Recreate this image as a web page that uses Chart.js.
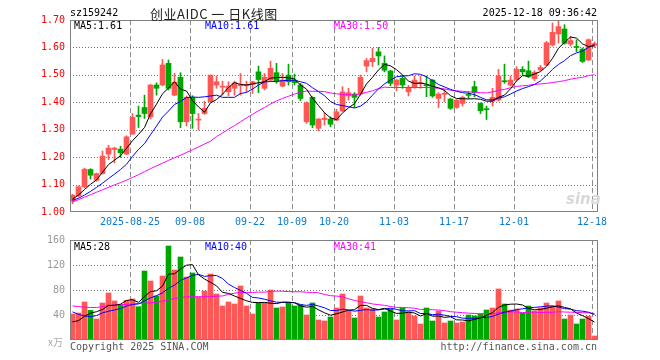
<!DOCTYPE html>
<html>
<head>
<meta charset="utf-8">
<script src="https://cdn.jsdelivr.net/npm/chart.js@4.4.0/dist/chart.umd.min.js"></script>
<style>
  body { margin: 0; width: 660px; height: 360px; background: #fff; position: relative; overflow: hidden;
         font-family: 'DejaVu Sans Mono', monospace; font-size: 10px; }
  .t { position: absolute; z-index: 2; white-space: nowrap; line-height: 1; }
  canvas { position: absolute; left: 0; z-index: 1; }
  #pc { top: 0; }
  #vc { top: 220px; }
</style>
</head>
<body>
<canvas id="pc" width="660" height="235"></canvas>
<canvas id="vc" width="660" height="140"></canvas>

<div class="t" style="left:70px;top:8px;color:#000">sz159242</div>
<div class="t" style="left:150px;top:4px;font:13px 'Noto Sans CJK SC';letter-spacing:0.5px;color:#222">创业AIDC 一 日K线图</div>
<div class="t" style="right:63px;top:8px;color:#000">2025-12-18 09:36:42</div>

<div class="t" style="left:74px;top:21px;color:#000">MA5:1.61</div>
<div class="t" style="left:205px;top:21px;color:#0000ff">MA10:1.61</div>
<div class="t" style="left:334px;top:21px;color:#ff00ff">MA30:1.50</div>

<div class="t" style="left:74px;top:242px;color:#000">MA5:28</div>
<div class="t" style="left:205px;top:242px;color:#0000ff">MA10:40</div>
<div class="t" style="left:334px;top:242px;color:#ff00ff">MA30:41</div>

<div class="t" style="left:566px;top:190px;font:bold italic 15px 'DejaVu Sans';color:#d8d8d8">sina</div>
<div class="t" style="right:597px;top:334px;font:10px 'Noto Sans CJK SC';color:#aaa">x万</div>
<div class="t" style="left:70px;top:342px;color:#555">Copyright 2025 SINA.COM</div>
<div class="t" style="right:63px;top:342px;color:#555">http://finance.sina.com.cn</div>

<script>
// trading days shown on the chart
const days = [
  '2025-08-11','2025-08-12','2025-08-13','2025-08-14','2025-08-15','2025-08-18','2025-08-19','2025-08-20','2025-08-21','2025-08-22',
  '2025-08-25','2025-08-26','2025-08-27','2025-08-28','2025-08-29','2025-09-01','2025-09-02','2025-09-03','2025-09-04','2025-09-05',
  '2025-09-08','2025-09-09','2025-09-10','2025-09-11','2025-09-12','2025-09-15','2025-09-16','2025-09-17','2025-09-18','2025-09-19',
  '2025-09-22','2025-09-23','2025-09-24','2025-09-25','2025-09-26','2025-09-29','2025-09-30','2025-10-09','2025-10-10','2025-10-13',
  '2025-10-14','2025-10-15','2025-10-16','2025-10-17','2025-10-20','2025-10-21','2025-10-22','2025-10-23','2025-10-24','2025-10-27',
  '2025-10-28','2025-10-29','2025-10-30','2025-10-31','2025-11-03','2025-11-04','2025-11-05','2025-11-06','2025-11-07','2025-11-10',
  '2025-11-11','2025-11-12','2025-11-13','2025-11-14','2025-11-17','2025-11-18','2025-11-19','2025-11-20','2025-11-21','2025-11-24',
  '2025-11-25','2025-11-26','2025-11-27','2025-11-28','2025-12-01','2025-12-02','2025-12-03','2025-12-04','2025-12-05','2025-12-08',
  '2025-12-09','2025-12-10','2025-12-11','2025-12-12','2025-12-15','2025-12-16','2025-12-17','2025-12-18'
];
const tickDays = ['2025-08-25','2025-09-08','2025-09-22','2025-10-09','2025-10-20','2025-11-03','2025-11-17','2025-12-01','2025-12-18'];
const tickLabels = ['2025-08-25','09-08','09-22','10-09','10-20','11-03','11-17','12-01','12-18'];
const priceTicks = [1.0, 1.1, 1.2, 1.3, 1.4, 1.5, 1.6, 1.7];
const volumeTicks = [0, 40, 80, 120, 160];

const openPx = [
  1.040,1.059,1.092,1.155,1.116,1.140,1.211,1.228,1.229,1.211,
  1.284,1.353,1.381,1.347,1.463,1.463,1.542,1.426,1.491,1.329,
  1.418,1.335,1.359,1.402,1.463,1.455,1.438,1.451,1.460,1.460,
  1.465,1.511,1.451,1.481,1.508,1.459,1.499,1.481,1.463,1.329,
  1.418,1.305,1.337,1.339,1.335,1.369,1.423,1.430,1.430,1.532,
  1.548,1.584,1.542,1.514,1.463,1.487,1.438,1.454,1.468,1.462,
  1.481,1.414,1.429,1.412,1.381,1.396,1.427,1.457,1.396,1.375,
  1.404,1.408,1.477,1.463,1.483,1.520,1.515,1.486,1.518,1.536,
  1.609,1.649,1.667,1.612,1.603,1.594,1.554,1.608
];
const highPx = [
  1.065,1.095,1.160,1.158,1.142,1.222,1.243,1.236,1.240,1.278,
  1.359,1.386,1.426,1.465,1.471,1.556,1.554,1.505,1.508,1.423,
  1.424,1.359,1.404,1.500,1.496,1.477,1.475,1.477,1.505,1.477,
  1.477,1.532,1.505,1.550,1.542,1.505,1.539,1.503,1.469,1.402,
  1.420,1.341,1.362,1.347,1.374,1.457,1.451,1.435,1.499,1.560,
  1.597,1.600,1.569,1.517,1.483,1.499,1.462,1.496,1.496,1.496,
  1.483,1.435,1.447,1.414,1.410,1.423,1.438,1.477,1.398,1.386,
  1.451,1.520,1.539,1.496,1.530,1.530,1.550,1.515,1.535,1.622,
  1.689,1.698,1.683,1.640,1.628,1.598,1.631,1.620
];
const lowPx = [
  1.030,1.055,1.088,1.120,1.112,1.138,1.191,1.179,1.199,1.209,
  1.283,1.308,1.341,1.339,1.426,1.460,1.445,1.424,1.307,1.314,
  1.305,1.299,1.356,1.400,1.451,1.426,1.423,1.426,1.426,1.438,
  1.432,1.435,1.445,1.478,1.469,1.457,1.463,1.463,1.406,1.323,
  1.307,1.296,1.317,1.311,1.333,1.365,1.408,1.381,1.426,1.511,
  1.530,1.536,1.511,1.460,1.442,1.451,1.423,1.451,1.451,1.420,
  1.418,1.381,1.402,1.374,1.378,1.386,1.414,1.420,1.359,1.337,
  1.386,1.404,1.469,1.459,1.478,1.499,1.490,1.479,1.515,1.533,
  1.605,1.616,1.612,1.605,1.584,1.545,1.553,1.600
];
const closePx = [
  1.061,1.092,1.156,1.134,1.140,1.204,1.233,1.233,1.216,1.274,
  1.345,1.348,1.359,1.463,1.451,1.536,1.451,1.473,1.329,1.418,
  1.359,1.337,1.378,1.499,1.475,1.457,1.459,1.471,1.463,1.465,
  1.475,1.483,1.491,1.524,1.475,1.481,1.475,1.471,1.414,1.398,
  1.317,1.339,1.342,1.320,1.365,1.438,1.435,1.418,1.491,1.552,
  1.560,1.569,1.517,1.469,1.481,1.463,1.453,1.481,1.472,1.460,
  1.423,1.430,1.431,1.378,1.408,1.418,1.425,1.435,1.369,1.373,
  1.418,1.496,1.475,1.481,1.520,1.511,1.493,1.509,1.527,1.617,
  1.655,1.676,1.615,1.625,1.600,1.549,1.628,1.614
];
const ma5 = [
  1.047,1.062,1.082,1.101,1.117,1.145,1.173,1.189,1.205,1.232,
  1.260,1.283,1.308,1.358,1.393,1.431,1.452,1.475,1.448,1.441,
  1.406,1.383,1.364,1.398,1.410,1.429,1.454,1.472,1.465,1.463,
  1.467,1.471,1.475,1.488,1.490,1.491,1.489,1.485,1.463,1.448,
  1.415,1.388,1.362,1.343,1.337,1.361,1.380,1.395,1.429,1.467,
  1.491,1.518,1.538,1.533,1.519,1.500,1.477,1.469,1.470,1.466,
  1.458,1.453,1.443,1.424,1.414,1.413,1.412,1.413,1.411,1.404,
  1.404,1.418,1.426,1.449,1.478,1.497,1.496,1.503,1.512,1.531,
  1.560,1.597,1.618,1.638,1.634,1.613,1.603,1.606
];
const ma10 = [
  1.043,1.050,1.062,1.075,1.090,1.105,1.122,1.138,1.155,1.174,
  1.203,1.228,1.249,1.282,1.313,1.346,1.368,1.392,1.403,1.417,
  1.419,1.418,1.420,1.423,1.426,1.418,1.418,1.418,1.432,1.436,
  1.448,1.463,1.474,1.476,1.476,1.479,1.480,1.480,1.475,1.469,
  1.453,1.439,1.424,1.403,1.392,1.388,1.384,1.379,1.386,1.402,
  1.426,1.449,1.467,1.481,1.493,1.496,1.497,1.504,1.502,1.493,
  1.479,1.465,1.456,1.447,1.440,1.435,1.433,1.428,1.418,1.409,
  1.409,1.415,1.420,1.430,1.441,1.450,1.457,1.465,1.478,1.498,
  1.520,1.538,1.552,1.570,1.580,1.587,1.600,1.611
];
const ma30 = [
  1.037,1.045,1.054,1.063,1.072,1.081,1.090,1.099,1.107,1.116,
  1.126,1.136,1.147,1.158,1.168,1.178,1.188,1.198,1.207,1.217,
  1.227,1.237,1.248,1.258,1.275,1.288,1.302,1.315,1.329,1.343,
  1.356,1.369,1.381,1.394,1.405,1.414,1.422,1.430,1.437,1.441,
  1.440,1.440,1.439,1.434,1.431,1.428,1.428,1.426,1.431,1.436,
  1.442,1.450,1.455,1.454,1.454,1.454,1.454,1.454,1.454,1.454,
  1.453,1.451,1.449,1.444,1.442,1.440,1.438,1.437,1.435,1.434,
  1.438,1.443,1.447,1.453,1.458,1.460,1.462,1.465,1.467,1.469,
  1.472,1.475,1.479,1.484,1.488,1.491,1.497,1.501
];

// volume, 万手
const volume = [
  41.6,43.2,60.8,47.5,33.6,59.2,75.2,62.4,56,63.5,
  65.6,53.3,110.4,94.4,70.4,102.4,150.4,112,132.8,100.8,
  107.2,68.8,78.4,105.6,73.6,54.4,60.8,57.6,86.4,54.4,
  41.6,59.2,59.2,80,51.2,52.8,59.2,54.4,56,40,
  59.2,32,30.4,36.8,51.2,73.6,46.4,35.2,70.4,51.2,
  49.6,36.8,44.8,49.6,32,51.2,44.8,38.4,25.6,51.2,
  30.4,46.4,27.2,30.4,27.2,28.8,40,38.4,41.6,48,
  51.2,81.6,57.6,48,49.6,43.2,54.4,46.4,51.2,59.2,
  54.4,62.4,33.6,40,25.6,33.6,38.4,6.4
];
const volMa5 = [
  29,31,38,43,45.3,48.9,55.3,55.6,57.3,63.3,
  64.5,60.2,69.8,77.4,78.8,86.2,105.6,105.9,113.6,119.7,
  120.6,104.3,97.6,92.2,86.7,76.2,74.6,70.4,66.6,62.7,
  60.2,59.8,60.2,58.9,58.2,60.5,60.5,59.5,54.7,52.5,
  53.8,48.3,43.5,39.7,41.9,44.8,47.7,48.6,55.4,55.4,
  50.6,48.6,50.6,46.4,42.6,42.9,44.5,43.2,38.4,42.2,
  38.1,38.4,36.2,37.1,32.3,32.0,30.7,33.0,35.2,39.4,
  43.8,52.2,56.0,57.3,57.6,56.0,50.6,48.3,49.0,50.9,
  53.1,54.7,52.2,49.9,43.2,39.0,34.2,28.8
];
const volMa10 = [
  45,41,38.5,37.5,39,43.5,46,48,50.5,54.3,
  56.7,57.7,62.7,67.4,71.0,75.4,82.9,87.8,95.5,99.3,
  103.4,105.0,101.8,102.9,103.2,98.4,89.4,84.0,79.4,74.7,
  68.2,67.2,65.3,62.7,60.5,60.3,60.2,59.8,56.8,55.4,
  57.1,54.4,51.5,47.2,47.2,49.3,48.0,46.1,47.5,48.6,
  47.7,48.2,49.6,50.9,49.0,46.7,46.6,46.9,42.4,42.4,
  40.5,41.4,39.7,37.8,37.3,35.0,34.6,34.6,36.2,35.8,
  37.9,41.4,44.5,46.2,48.5,49.9,51.4,52.2,53.1,54.2,
  54.6,52.6,50.2,49.4,47.0,46.1,44.5,40.5
];
const volMa30 = [
  54.5,53.5,52.5,52,52,53.5,55,56,56.5,57,
  57.5,58.5,59,59.5,60.5,62,64,66.5,68,69,
  69.3,69.3,69.3,69.5,70,70.5,73,75,76,76.1,
  76.1,76.6,76.6,77.7,78.2,78.0,77.5,77.2,77.2,76.4,
  76.2,75.5,72.9,70.9,70.3,69.3,65.9,63.3,61.2,59.6,
  57.7,56.6,55.5,53.6,52.2,52.1,51.6,50.9,48.9,48.8,
  48.4,48.0,46.9,45.3,44.5,43.7,43.0,42.5,42.0,42.3,
  42.0,43.7,44.6,45.0,44.9,43.9,44.2,44.5,43.9,44.2,
  44.3,45.2,44.8,44.5,44.3,43.7,43.5,42.4
];

const RED = '#ff5656', GREEN = '#00a600';
const MONO = "'DejaVu Sans Mono', monospace";
const tickIdx = tickDays.map(d => days.indexOf(d));
const colors = closePx.map((c, i) => c >= openPx[i] ? RED : GREEN);
const pos = i => i + 2.5 / 6; // centre of the candle inside its day slot

// dashed day lines + dotted value lines under the marks, grey box on top
const guides = {
  id: 'guides',
  beforeDatasetsDraw(chart) {
    const ctx = chart.ctx, a = chart.chartArea, x = chart.scales.x, y = chart.scales.y;
    ctx.save();
    ctx.lineWidth = 1;
    ctx.strokeStyle = '#8c8c8c';
    ctx.setLineDash([5, 3]);
    x.ticks.forEach(t => {
      const px = Math.round(x.getPixelForValue(t.value)) + 0.5;
      ctx.beginPath(); ctx.moveTo(px, a.top); ctx.lineTo(px, a.bottom); ctx.stroke();
    });
    ctx.strokeStyle = '#777';
    ctx.setLineDash([1, 2]);
    y.ticks.filter(t => t.value > y.min && t.value < y.max).forEach(t => {
      const py = Math.round(y.getPixelForValue(t.value)) + 0.5;
      ctx.beginPath(); ctx.moveTo(a.left, py); ctx.lineTo(a.right, py); ctx.stroke();
    });
    ctx.restore();
  },
  afterDraw(chart) {
    const ctx = chart.ctx, a = chart.chartArea;
    ctx.save();
    ctx.setLineDash([]);
    ctx.strokeStyle = '#808080';
    ctx.lineWidth = 1;
    ctx.strokeRect(a.left + 0.5, a.top + 0.5, a.right - a.left - 1, a.bottom - a.top - 1);
    ctx.restore();
  }
};

function xAxis(labels) {
  return {
    type: 'linear', min: 0, max: days.length, offset: false,
    afterBuildTicks: s => { s.ticks = tickIdx.map(v => ({ value: v })); },
    afterFit: s => { s.height = labels ? 23 : 20; },
    grid: { display: false, drawTicks: false },
    border: { display: false },
    ticks: {
      display: labels, autoSkip: false, maxRotation: 0, padding: 4, color: '#0a7ad2',
      font: { family: MONO, size: 10 },
      callback: v => tickLabels[tickIdx.indexOf(v)]
    }
  };
}

function yAxis(min, max, ticks, color, fmt) {
  return {
    min, max, beginAtZero: false,
    afterBuildTicks: s => { s.ticks = ticks.map(v => ({ value: v })); },
    afterFit: s => { s.width = 70; },
    grid: { display: false, drawTicks: false },
    border: { display: false },
    ticks: { padding: 5, color, font: { family: MONO, size: 10 }, callback: fmt }
  };
}

function maLine(vals, color) {
  return {
    type: 'line', order: 0,
    data: vals.map((v, i) => ({ x: pos(i), y: v })),
    borderColor: color, borderWidth: 1, pointRadius: 0, tension: 0
  };
}

const common = {
  responsive: false, animation: false, events: [],
  plugins: { legend: { display: false }, tooltip: { enabled: false } }
};

new Chart(document.getElementById('pc'), {
  type: 'bar',
  data: {
    datasets: [
      { // wicks
        order: 1, grouped: false, barThickness: 1,
        data: days.map((d, i) => ({ x: pos(i), y: [lowPx[i], highPx[i]] })),
        backgroundColor: colors
      },
      { // bodies
        order: 1, grouped: false, barThickness: 5, minBarLength: 1,
        data: days.map((d, i) => ({ x: pos(i), y: [openPx[i], closePx[i]] })),
        backgroundColor: colors
      },
      maLine(ma5, '#000'),
      maLine(ma10, '#0000ff'),
      maLine(ma30, '#ff00ff')
    ]
  },
  options: {
    ...common,
    layout: { padding: { top: 20, right: 62, left: 0, bottom: 0 } },
    scales: {
      x: xAxis(true),
      y: yAxis(1.0, 1.7, priceTicks, '#ff0000', v => v.toFixed(2))
    }
  },
  plugins: [guides]
});

new Chart(document.getElementById('vc'), {
  type: 'bar',
  data: {
    datasets: [
      {
        order: 1, grouped: false, barThickness: 5,
        data: volume.map((v, i) => ({ x: pos(i), y: v })),
        backgroundColor: colors
      },
      maLine(volMa5, '#000'),
      maLine(volMa10, '#0000ff'),
      maLine(volMa30, '#ff00ff')
    ]
  },
  options: {
    ...common,
    layout: { padding: { top: 20, right: 62, left: 0, bottom: 0 } },
    scales: {
      x: xAxis(false),
      y: yAxis(0, 160, volumeTicks, '#999', v => v === 0 ? '' : v)
    }
  },
  plugins: [guides]
});
</script>
</body>
</html>
